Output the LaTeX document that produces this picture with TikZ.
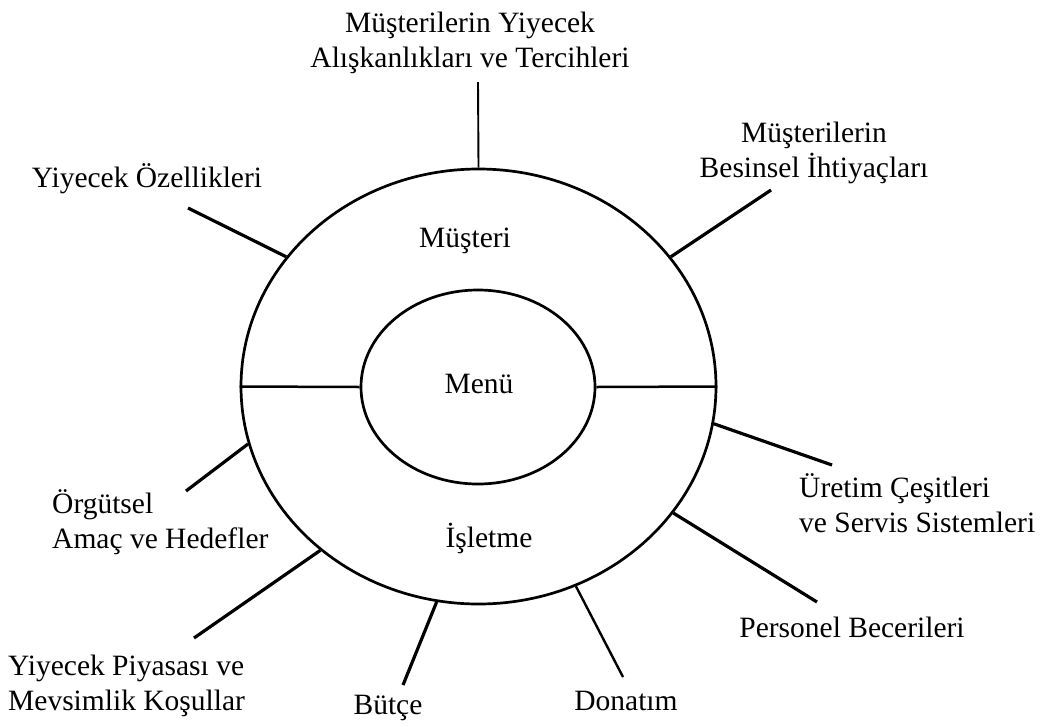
\documentclass[tikz,border=0pt]{standalone}
\usepackage{fontspec}
\setmainfont{Liberation Serif}
\usetikzlibrary{shapes.geometric}
\begin{document}
\begin{tikzpicture}[x=1pt,y=-1pt,
  every node/.style={font=\fontsize{29.5}{35}\selectfont},
  ring/.style={draw, ellipse, line width=2.7pt, inner sep=0pt},
  spoke/.style={line width=3.2pt},
  thinspoke/.style={line width=1.9pt},
  midspoke/.style={line width=2.4pt},
  lbl/.style={inner sep=0pt, anchor=base, align=center},
  lblw/.style={inner sep=0pt, anchor=base west, align=left}]
\useasboundingbox (0,0) rectangle (1048,726);
% rings
\node[ring, minimum width=475pt, minimum height=435pt] (outer) at (478.5,386.5) {};
\node[ring, minimum width=234pt, minimum height=194pt] (inner) at (478,387) {};
\draw[line width=2.5pt] (outer.west) -- (inner.west);
\draw[line width=2.5pt] (inner.east) -- (outer.east);
% centre labels
\node[lbl] (menu) at (479,393) {Menü};
\node[lbl] (must) at (465,247) {Müşteri};
\node[lbl] (isl) at (489,547) {İşletme};
% outer labels (base = baseline of last line)
\node[lbl] (t1) at (470,67) {Müşterilerin Yiyecek\\Alışkanlıkları ve Tercihleri};
\node[lbl] (t2) at (147,187) {Yiyecek Özellikleri};
\node[lbl] (t3) at (814,177) {Müşterilerin\\Besinsel İhtiyaçları};
\node[lblw] (t4) at (799,532) {Üretim Çeşitleri\\ve Servis Sistemleri};
\node[lbl] (t5) at (852,637) {Personel Becerileri};
\node[lbl] (t6) at (626,710) {Donatım};
\node[lbl] (t7) at (388,714) {Bütçe};
\node[lblw] (t8) at (8,710) {Yiyecek Piyasası ve\\Mevsimlik Koşullar};
\node[lblw] (t9) at (52,548) {Örgütsel\\Amaç ve Hedefler};
% spoke ends
\coordinate (e1) at (478,82);
\coordinate (e2) at (188,208);
\coordinate (e3) at (771,190);
\coordinate (e4) at (832,465);
\coordinate (e5) at (817,602);
\coordinate (e6) at (623,677);
\coordinate (e7) at (403,685);
\coordinate (e8) at (194,638);
\coordinate (e9) at (186,491);
% spokes
\draw[thinspoke] (outer.90) -- (e1);
\draw[spoke] (outer.146) -- (e2);
\draw[spoke] (outer.34.8) -- (e3);
\draw[spoke] (outer.-9.2) -- (e4);
\draw[spoke] (outer.-33.9) -- (e5);
\draw[midspoke] (outer.-64.2) -- (e6);
\draw[spoke] (outer.-101.4) -- (e7);
\draw[spoke] (outer.-134.3) -- (e8);
\draw[spoke] (outer.194.1) -- (e9);
\end{tikzpicture}
\end{document}
